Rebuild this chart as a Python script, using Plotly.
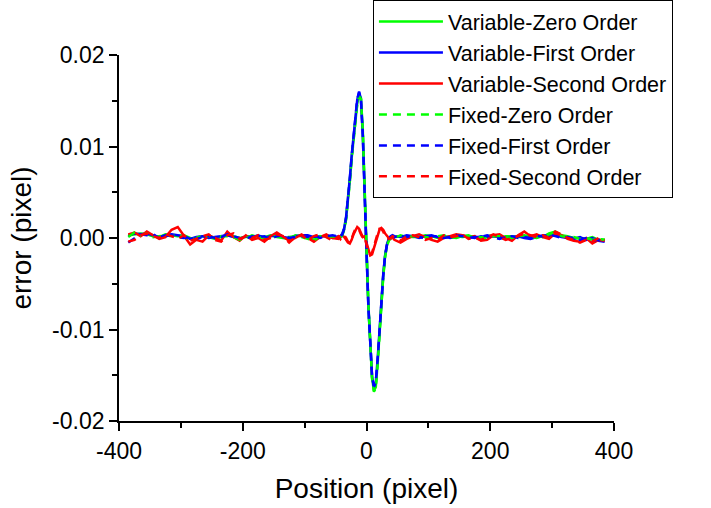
import plotly.graph_objects as go

# sample positions (pixel)
position = [
    -385, -375, -365, -355, -345, -335, -325, -315, -305, -295, -285, -275,
    -265, -255, -245, -235, -225, -215, -205, -195, -185, -175, -165, -155,
    -145, -135, -125, -115, -105, -95, -85, -75, -65, -55, -45,
    -42, -39, -36, -33, -30, -27, -24, -21, -18, -15, -12, -9, -6, -3,
    0, 3, 6, 9, 12, 15, 18, 21, 24, 27, 30, 33, 36, 39, 42,
    45, 55, 65, 75, 85, 95, 105, 115, 125, 135, 145, 155, 165, 175, 185,
    195, 205, 215, 225, 235, 245, 255, 265, 275, 285, 295, 305, 315, 325,
    335, 345, 355, 365, 375, 385,
]

var_zero = [
    0.0003, 0.0004, 0.0005, 0.0004, 0.0002, 0.0001, 0.0004, 0.0003, 0.0002, 0.0003, 0.0, -0.0001,
    0.0002, 0.0001, -0.0001, 0.0001, 0.0003, 0.0002, 0.0, 0.0001, 0.0002, 0.0002, 0.0001, 0.0003,
    0.0001, 0.0, -0.0001, 0.0003, 0.0002, 0.0002, -0.0002, 0.0001, 0.0003, 0.0, 0.0001,
    0.0001, 0.0004, 0.0010, 0.0021, 0.0040, 0.0062, 0.0087, 0.0109, 0.0130, 0.0147, 0.0156, 0.0153, 0.0118, 0.0063,
    -0.0010, -0.0072, -0.0120, -0.0153, -0.0167, -0.0163, -0.0137, -0.0102, -0.0069, -0.0042, -0.0020, -0.0008, -0.0002, 0.0001, 0.0002,
    0.0001, 0.0002, 0.0002, 0.0001, 0.0001, 0.0003, 0.0002, 0.0, 0.0001, 0.0002, 0.0002, 0.0001, 0.0002, 0.0001, 0.0,
    0.0002, 0.0003, 0.0, 0.0002, 0.0002, 0.0001, 0.0001, 0.0002, 0.0003, 0.0001, 0.0005, 0.0007, 0.0003, 0.0002,
    0.0, 0.0, -0.0001, 0.0001, -0.0002, -0.0002,
]

var_first = [
    0.0002, 0.0005, 0.0004, 0.0005, 0.0003, 0.0001, 0.0003, 0.0004, 0.0003, 0.0002, -0.0001, 0.0001,
    0.0002, 0.0, 0.0001, 0.0002, 0.0003, 0.0001, -0.0001, 0.0002, 0.0001, 0.0003, 0.0, 0.0002,
    0.0003, 0.0001, 0.0, 0.0002, 0.0003, 0.0003, 0.0001, 0.0002, 0.0002, 0.0001, 0.0002,
    0.0002, 0.0005, 0.0011, 0.0023, 0.0042, 0.0065, 0.0090, 0.0112, 0.0133, 0.0151, 0.0160, 0.0152, 0.0112, 0.0058,
    -0.0015, -0.0075, -0.0122, -0.0152, -0.0163, -0.0158, -0.0132, -0.0098, -0.0066, -0.0040, -0.0019, -0.0007, -0.0001, 0.0002, 0.0003,
    0.0002, 0.0001, 0.0003, 0.0002, 0.0, 0.0002, 0.0003, 0.0001, 0.0002, 0.0, 0.0001, 0.0003, 0.0001, 0.0, 0.0002,
    0.0001, 0.0002, 0.0001, 0.0, 0.0001, 0.0002, 0.0, -0.0001, 0.0001, 0.0003, 0.0002, 0.0003, 0.0001, 0.0,
    -0.0001, 0.0001, -0.0002, 0.0, -0.0003, -0.0004,
]

var_second = [
    0.0004, 0.0006, 0.0002, 0.0007, 0.0003, -0.0001, 0.0001, 0.0009, 0.0012, 0.0002, -0.0007, -0.0002,
    -0.0004, 0.0003, 0.0, -0.0003, 0.0007, 0.0001, -0.0003, 0.0003, -0.0002, 0.0, -0.0004, 0.0002,
    0.0006, 0.0001, -0.0003, 0.0, 0.0004, 0.0, -0.0004, 0.0001, 0.0004, 0.0, -0.0001,
    0.0002, 0.0003, 0.0001, -0.0002, -0.0005, -0.0006, -0.0002, 0.0004, 0.0009, 0.0012, 0.0010, 0.0005, 0.0001, 0.0002,
    -0.0006, -0.0014, -0.0019, -0.0018, -0.0011, -0.0003, 0.0004, 0.0009, 0.0011, 0.0009, 0.0005, 0.0002, 0.0, -0.0001, 0.0001,
    -0.0002, -0.0005, -0.0001, 0.0002, 0.0004, 0.0001, -0.0002, -0.0004, 0.0, 0.0002, 0.0004, 0.0003, 0.0001, 0.0002, -0.0003,
    -0.0002, 0.0003, 0.0004, 0.0, -0.0003, 0.0003, 0.0007, 0.0002, 0.0004, 0.0001, -0.0001, 0.0005, 0.0003, -0.0001,
    -0.0003, -0.0004, 0.0, -0.0006, -0.0002, -0.0003,
]

fixed_zero = [
    0.0001, 0.0006, 0.0003, 0.0005, 0.0001, 0.0002, 0.0003, 0.0002, 0.0004, 0.0001, -0.0002, 0.0,
    0.0003, 0.0002, 0.0, 0.0002, 0.0002, 0.0001, -0.0002, 0.0, 0.0003, 0.0001, 0.0, 0.0002,
    0.0002, 0.0001, 0.0001, 0.0002, 0.0001, -0.0001, -0.0003, 0.0002, 0.0001, 0.0002, 0.0,
    0.0, 0.0003, 0.0009, 0.0020, 0.0039, 0.0061, 0.0086, 0.0108, 0.0129, 0.0146, 0.0155, 0.0152, 0.0117, 0.0062,
    -0.0011, -0.0073, -0.0121, -0.0154, -0.0168, -0.0164, -0.0138, -0.0103, -0.0070, -0.0043, -0.0021, -0.0009, -0.0003, 0.0, 0.0001,
    0.0, 0.0003, 0.0001, 0.0002, 0.0002, 0.0001, 0.0, 0.0002, 0.0003, 0.0001, 0.0, 0.0002, 0.0003, 0.0, 0.0001,
    0.0, 0.0002, 0.0002, 0.0001, 0.0, 0.0002, 0.0003, 0.0001, 0.0, 0.0002, 0.0004, 0.0006, 0.0002, 0.0001,
    0.0001, -0.0001, 0.0, -0.0002, -0.0001, -0.0002,
]

fixed_first = [
    -0.0005, 0.0, 0.0004, 0.0003, 0.0004, 0.0, 0.0002, 0.0003, 0.0001, 0.0, 0.0001, -0.0001,
    0.0001, 0.0002, 0.0, 0.0001, 0.0004, 0.0002, 0.0, -0.0001, 0.0002, 0.0001, 0.0002, -0.0001,
    0.0002, 0.0003, 0.0, 0.0001, 0.0002, 0.0001, 0.0003, 0.0, 0.0002, 0.0003, 0.0001,
    0.0001, 0.0004, 0.0010, 0.0022, 0.0041, 0.0064, 0.0089, 0.0112, 0.0134, 0.0152, 0.0159, 0.0151, 0.0113, 0.0059,
    -0.0014, -0.0074, -0.0121, -0.0151, -0.0162, -0.0157, -0.0133, -0.0099, -0.0067, -0.0041, -0.0020, -0.0008, -0.0002, 0.0001, 0.0002,
    0.0001, 0.0002, 0.0001, 0.0003, 0.0001, 0.0, 0.0002, 0.0002, 0.0, 0.0001, 0.0003, 0.0002, 0.0, 0.0001, 0.0001,
    0.0003, 0.0001, -0.0001, 0.0001, 0.0002, 0.0, 0.0001, 0.0, 0.0002, 0.0002, 0.0004, 0.0002, 0.0, 0.0001,
    0.0, -0.0002, 0.0, -0.0003, -0.0002, -0.0003,
]

fixed_second = [
    -0.0004, -0.0002, 0.0003, 0.0005, 0.0002, 0.0, 0.0004, 0.0002, -0.0001, 0.0003, -0.0003, -0.0001,
    0.0002, 0.0004, -0.0002, -0.0004, 0.0003, 0.0005, -0.0001, 0.0002, 0.0, 0.0003, -0.0002, 0.0,
    0.0004, 0.0002, -0.0005, 0.0001, 0.0003, -0.0002, 0.0002, 0.0004, 0.0001, -0.0003, 0.0002,
    -0.0001, 0.0002, 0.0003, 0.0, -0.0004, -0.0005, -0.0001, 0.0005, 0.0010, 0.0011, 0.0009, 0.0004, 0.0, 0.0001,
    -0.0007, -0.0015, -0.0018, -0.0016, -0.0009, -0.0001, 0.0005, 0.0010, 0.0010, 0.0007, 0.0003, 0.0001, -0.0001, 0.0, 0.0002,
    0.0001, -0.0003, 0.0002, 0.0003, 0.0001, -0.0002, 0.0, -0.0002, 0.0003, 0.0001, 0.0002, 0.0004, -0.0001, 0.0, -0.0002,
    0.0001, 0.0004, 0.0001, -0.0002, 0.0, 0.0002, 0.0005, 0.0003, 0.0001, 0.0003, 0.0, 0.0007, 0.0004, 0.0,
    -0.0002, -0.0005, -0.0002, -0.0004, 0.0, -0.0002,
]

x_ticks = [-400, -200, 0, 200, 400]
x_tick_text = ["-400", "-200", "0", "200", "400"]
y_ticks = [-0.02, -0.01, 0.0, 0.01, 0.02]
y_tick_text = ["-0.02", "-0.01", "0.00", "0.01", "0.02"]

series = [
    ("Variable-Zero Order", var_zero, "#00FF00", "solid"),
    ("Variable-First Order", var_first, "#0000FF", "solid"),
    ("Variable-Second Order", var_second, "#FF0000", "solid"),
    ("Fixed-Zero Order", fixed_zero, "#00FF00", "8px,6px"),
    ("Fixed-First Order", fixed_first, "#0000FF", "8px,6px"),
    ("Fixed-Second Order", fixed_second, "#FF0000", "8px,6px"),
]

fig = go.Figure()
for name, vals, color, dash in series:
    fig.add_trace(go.Scatter(
        x=position, y=vals, mode="lines", name=name,
        line=dict(color=color, width=2.5, dash=dash),
    ))

axis_common = dict(
    showline=True, linecolor="black", linewidth=1.8,
    showgrid=False, zeroline=False,
    ticks="outside", ticklen=8, tickwidth=1.8, tickcolor="black",
    tickfont=dict(size=23, color="black"),
    mirror=False,
)

fig.update_xaxes(
    range=[-400, 400], tickvals=x_ticks, ticktext=x_tick_text,
    minor=dict(ticks="outside", ticklen=5, dtick=100, tick0=-400, tickcolor="black", tickwidth=1.8),
    title=dict(text="Position (pixel)", font=dict(size=28, color="black"), standoff=16),
    **axis_common
)
fig.update_yaxes(
    range=[-0.02, 0.02], tickvals=y_ticks, ticktext=y_tick_text,
    minor=dict(ticks="outside", ticklen=5, dtick=0.005, tick0=0, tickcolor="black", tickwidth=1.8),
    title=dict(text="error (pixel)", font=dict(size=28, color="black"), standoff=12),
    **axis_common
)

fig.update_layout(
    width=711, height=508, autosize=False,
    margin=dict(l=119, r=97, t=55, b=87, autoexpand=False),
    paper_bgcolor="white", plot_bgcolor="white",
    font=dict(family="Arial, Liberation Sans, sans-serif", color="black"),
    legend=dict(
        x=0.513, y=1.15, xanchor="left", yanchor="top",
        bgcolor="white", bordercolor="black", borderwidth=1,
        font=dict(size=21.5, color="black"),
        tracegroupgap=0, itemwidth=64,
        entrywidth=262, entrywidthmode="pixels",
    ),
)

fig.write_html("out.html", config={"displayModeBar": False},
               post_script="document.body.style.margin='0';")
